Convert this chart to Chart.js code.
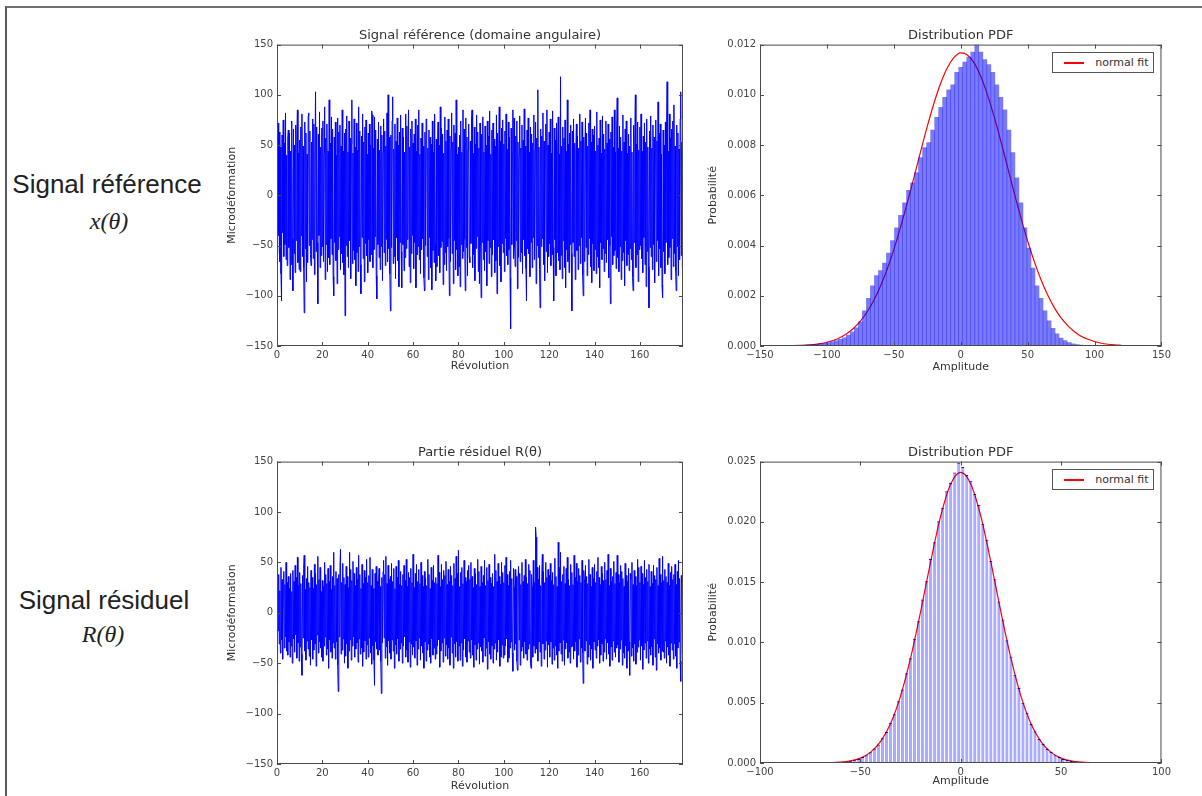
<!DOCTYPE html>
<html lang="fr">
<head>
<meta charset="utf-8">
<title>Signal référence / Signal résiduel</title>
<script src="https://cdn.jsdelivr.net/npm/chart.js@4.4.1/dist/chart.umd.min.js"></script>
<style>
  html, body { margin: 0; padding: 0; background: #fff; }
  #page { position: relative; width: 1202px; height: 796px; overflow: hidden; }
  #frame { position: absolute; left: 5px; top: 6px; width: 1200px; height: 795px;
           border-top: 2px solid #6e6e6e; border-left: 2px solid #5a5a5a; }
  .side { position: absolute; width: 220px; text-align: center; color: #222; }
  .side.name { font-family: 'Liberation Sans', Arial, sans-serif; font-size: 26px; line-height: 30px; }
  .side.math { font-family: 'Liberation Serif', 'DejaVu Serif', serif; font-style: italic; font-size: 24px; line-height: 28px; }
  .panel { position: absolute; }
  .panel canvas { display: block; }
  .legend { position: absolute; z-index: 2; background: #fff; border: 1px solid #555;
            padding: 3px 5px 3px 11px; font: 11px 'DejaVu Sans', sans-serif; color: #333;
            line-height: 13px; white-space: nowrap; }
  .legend .swatch { display: inline-block; width: 20px; height: 0; border-top: 2px solid;
                    vertical-align: middle; margin-right: 11px; }
</style>
</head>
<body>
<div id="page">
  <div id="frame"></div>

  <div class="side name" style="left:-3px; top:169px;">Signal référence</div>
  <div class="side math" style="left:-1px; top:207px;">x(θ)</div>
  <div class="side name" style="left:-6px; top:585px;">Signal résiduel</div>
  <div class="side math" style="left:-7px; top:620px;">R(θ)</div>

  <div class="panel" style="left:210px; top:22px;"><canvas id="refSignalChart" width="483" height="360"></canvas></div>
  <div class="panel" style="left:695px; top:22px;"><canvas id="refPdfChart" width="479" height="360"></canvas><div class="legend" id="refLegend"></div></div>
  <div class="panel" style="left:210px; top:439px;"><canvas id="resSignalChart" width="483" height="357"></canvas></div>
  <div class="panel" style="left:695px; top:439px;"><canvas id="resPdfChart" width="479" height="357"></canvas><div class="legend" id="resLegend"></div></div>
</div>

<script>
// ---- data ----

// revolutions between two consecutive samples of the signals
const sampleStep = 0.25;

// reference signal x(theta), microdeformation, 20 samples per line (5 revolutions)
const refSignal = [
  35, -58, 72, -40, 63, -66, 48, -78, -105, 60, -37, 75, -61, 52, -49, 82, -64, 40, -70, 57,
  65, -52, 62, -84, 44, -69, 74, -43, -95, 66, -58, 50, -77, 70, -45, 59, 85, -67, 42, -74,
  55, -76, 68, -40, 81, -61, 49, -72, -117, 73, -53, 62, -86, 41, -67, 79, 82, -50, 64, -59,
  -70, 53, -44, 76, -63, 71, -79, 45, 103, -56, 68, -47, -108, 61, -40, 83, -72, 48, -60, 67,
  -51, 74, -66, 42, 88, -84, 57, -49, 71, -76, 44, -62, 95, -69, 52, -43, 78, -59, 66, -81,
  -100, 58, -47, 73, -65, 40, -88, 77, -54, 63, -41, 70, -74, 49, -58, 85, -67, 44, -79, 62,
  -120, 66, -50, 79, -61, 43, -72, 74, -45, 57, -83, 51, 95, -68, 42, -55, 76, -64, 48, -90,
  72, -57, 45, -76, 88, -51, 64, -69, -98, 59, -42, 81, -63, 53, -86, 68, -48, 75, -60, 41,
  -77, 62, -44, 71, -66, 50, -59, 84, 80, -72, 47, -54, 78, -41, 65, -80, -103, 56, -49, 73,
  -62, 45, -74, 69, -51, 60, -85, 43, 76, -57, 64, -70, 49, -44, 82, -66, 100, -53, 58, -78,
  -115, 60, -52, 74, 98, -68, 46, -61, 71, -83, 54, -42, 77, -65, 50, -91, 63, -47, 80, -56,
  -92, 67, -49, 58, -75, 43, -62, 81, -53, 69, -44, 55, 85, -71, 48, -87, 66, -58, 74, -40,
  52, -73, 61, -47, 76, -92, 44, -59, 70, -51, 85, -64, 41, -78, 57, -54, 72, -43, 49, -82,
  -95, 63, -50, 76, 75, -61, 47, -84, 65, -42, 58, -72, 51, -94, 74, -55, 43, -67, 81, -49,
  -85, 56, -71, 44, 73, -60, 50, -77, 88, -52, 67, -46, 61, -89, 42, -69, 78, -57, 54, -75,
  65, -51, 76, -43, -100, 59, -66, 47, 82, -58, 53, -88, 70, -45, 62, -74, 95, -54, 41, -80,
  48, -71, 60, -91, 74, -49, 43, -63, 85, -56, 66, -44, -95, 77, -52, 58, -80, 45, 71, -61,
  -67, 54, -48, 75, 85, -72, 42, -59, 68, -85, 51, -53, 80, -41, 63, -76, 47, -88, 72, -50,
  -102, 61, -47, 78, -64, 43, -75, 69, -56, 50, -90, 74, -45, 59, -68, 84, -52, 41, -81, 65,
  -59, 72, -44, 56, -77, 49, -65, 80, -98, 62, -51, 43, 88, -70, 54, -86, 67, -48, 75, -57,
  51, -76, 64, -43, 81, -60, 46, -69, 73, -54, 58, -82, -133, 67, -49, 42, 85, -63, 77, -52,
  -71, 59, -45, 74, -93, 53, -62, 41, 79, -66, 47, -57, 70, -78, 55, -44, 86, -60, 49, -73,
  -105, 65, -53, 77, -58, 43, -81, 68, -47, 61, -72, 52, -42, 80, -64, 45, 73, -88, 57, -50,
  105, -62, 48, -74, -112, 66, -51, 59, -43, 82, -69, 54, -85, 44, 71, -56, 85, -77, 50, -61,
  63, -48, 76, -70, 42, -59, 84, -52, -105, 67, -44, 55, -80, 72, -57, 46, 78, -65, 41, -74,
  118, -60, 49, -83, 68, -45, 57, -72, 75, -92, 44, -54, 95, -66, 51, -77, 62, -49, 70, -58,
  -115, 64, -47, 76, -61, 52, -84, 43, 71, -55, 59, -74, 47, -50, 81, -68, 54, -42, 73, -79,
  -100, 58, -66, 45, 77, -52, 62, -80, 49, -59, 72, -43, 85, -71, 53, -87, 66, -48, 60, -75,
  69, -54, 44, -78, 83, -61, 50, -72, 57, -92, 75, -47, 42, -64, 79, -53, 61, -76, 46, -58,
  74, -67, 52, -44, 71, -82, 56, -50, -108, 63, -41, 78, -69, 48, -60, 85, -55, 43, -73, 66,
  97, -62, 47, -76, 69, -51, 58, -84, 44, -65, 80, -57, 53, -90, 66, -45, 74, -70, 42, -59,
  61, -75, 49, -53, 77, -64, 43, -82, -95, 70, -47, 56, 100, -72, 51, -59, 73, -86, 45, -54,
  68, -50, 81, -63, 44, -77, 59, -42, 72, -69, 53, -91, 76, -56, 48, -71, -112, 64, -52, 79,
  -61, 47, -74, 70, -49, 58, -87, 43, 75, -66, 54, -45, 93, -80, 62, -53, 71, -72, 41, -89,
  -102, 65, -56, 50, -78, 73, -47, 60, 113, -69, 44, -62, 81, -52, 57, -84, 66, -43, 74, -71,
  90, -58, 49, -75, -95, 70, -51, 62, -80, 46, -64, 76, 103, -60, 53, -72, 80, -67, 55, -88
];

// residual part R(theta)
const resSignal = [
  -70, 26, -18, 38, -31, 22, -40, 45, -27, 33, -46, 19, 41, -35, 28, -24, 50, -38, 30, -42,
  36, -29, 24, -44, 39, -33, 21, -50, 42, -26, 31, -39, 47, -22, 35, -45, 55, -30, 27, -48,
  40, -34, 29, -41, -62, 37, -25, 44, 57, -38, 23, -47, 34, -28, 46, -36, 30, -43, 25, -52,
  42, -27, 35, -46, 24, -37, 48, -31, 39, -53, 28, -22, 56, -40, 33, -29, 45, -35, 21, -44,
  32, -48, 26, -33, 50, -24, 38, -42, 29, -36, 44, -55, 31, -27, 47, -39, 23, -45, 36, -30,
  60, -35, 27, -46, 41, -29, 34, -52, -78, 38, -24, 45, 63, -41, 30, -37, 49, -26, 35, -50,
  28, -43, 46, -31, 36, -55, 25, -38, 60, -27, 43, -47, 32, -33, 51, -24, 39, -44, 27, -36,
  45, -30, 33, -49, 57, -26, 38, -41, 24, -35, 48, -53, 29, -39, 42, -28, 35, -46, 53, -32,
  30, -44, 37, -25, 55, -40, 27, -51, 43, -33, 24, -47, -72, 39, -29, 46, -36, 31, -42, 28,
  44, -37, 26, -48, -80, 35, -30, 41, 52, -25, 38, -45, 56, -34, 29, -52, 47, -28, 33, -40,
  36, -46, 49, -27, 31, -38, 44, -55, 24, -32, 46, -41, 35, -26, 52, -48, 28, -36, 41, -30,
  27, -50, 38, -33, 47, -24, 32, -44, 53, -37, 26, -49, 40, -29, 35, -54, 44, -31, 30, -42,
  58, -34, 25, -45, 39, -28, 48, -52, 31, -36, 43, -25, 29, -47, 50, -33, 37, -40, 26, -55,
  41, -29, 34, -48, 27, -37, 53, -31, 38, -44, 24, -50, 45, -26, 32, -42, 47, -35, 30, -46,
  35, -41, 29, -33, 57, -27, 40, -54, 26, -38, 48, -30, 33, -49, 42, -25, 37, -43, 51, -32,
  28, -46, 43, -35, 31, -52, 46, -24, 37, -40, 27, -55, 49, -31, 34, -44, 56, -29, 39, -48,
  62, -33, 26, -47, 40, -30, 45, -53, 29, -37, 52, -26, 35, -44, 31, -49, 42, -28, 47, -39,
  33, -45, 50, -27, 36, -42, 25, -54, 44, -32, 39, -47, 28, -36, 53, -30, 41, -51, 26, -34,
  46, -38, 30, -49, 37, -25, 52, -43, 27, -35, 45, -56, 32, -29, 48, -41, 35, -46, 29, -33,
  39, -50, 26, -36, 58, -30, 42, -47, 31, -39, 49, -27, 36, -53, 28, -44, 50, -32, 40, -45,
  30, -42, 47, -33, 55, -26, 38, -49, 27, -45, 41, -35, 52, -29, 34, -40, -58, 44, 25, -37,
  43, -31, 36, -48, -57, 32, 46, -27, 39, -52, 28, -38, 50, -34, 31, -45, 37, -29, 53, -41,
  35, -47, 29, -36, 48, -31, 42, -50, -55, 38, 26, -44, 52, -33, 30, -40, 85, 75, -36, 45,
  -48, 33, -29, 47, -39, 27, -53, 36, 58, -31, 41, -46, 30, -37, 50, -28, 35, -54, 43, -32,
  37, -44, 49, -29, 32, -51, 40, -35, 28, -47, 54, -33, 36, -42, 26, -55, 70, -38, 45, -30,
  60, -41, 31, -48, 38, -27, 46, -52, 29, -36, 44, -30, 55, -45, 33, -39, 27, -50, 48, -34,
  40, -33, 28, -46, 57, -38, 35, -29, 49, -54, 31, -42, 44, -26, 37, -49, 30, -35, 52, -40,
  -70, 42, 33, -38, 47, -28, 36, -51, 29, -44, 53, -32, 38, -47, 26, -36, 45, -55, 34, -29,
  48, -37, 30, -45, 41, -33, 55, -27, 35, -50, 28, -42, 46, -31, 39, -48, 32, -39, 50, -26,
  33, -46, 42, -30, 58, -41, 27, -53, 44, -34, 31, -47, 36, -28, 51, -39, 29, -44, 40, -35,
  57, -32, 38, -49, 30, -36, 47, -27, 41, -52, 34, -40, 26, -45, 49, -33, 37, -55, 31, -38,
  44, -29, -62, 39, 33, -43, 50, -35, 28, -48, 42, -31, 36, -51, 27, -39, 53, -34, 45, -27,
  30, -47, 46, -33, 39, -56, 28, -37, 52, -30, 35, -45, 43, -28, 31, -50, 48, -36, 26, -42,
  41, -34, 29, -52, 47, -26, 37, -44, 33, -57, 45, -31, 27, -40, 54, -35, 38, -47, 30, -38,
  56, -39, 32, -45, 43, -28, 36, -50, 30, -34, 49, -42, 27, -53, 40, -30, 46, -37, 33, -46,
  38, -31, 48, -43, 28, -55, 41, -35, 52, -29, 34, -48, -68, 37, 30, -41, 55, -33, 44, -60
];

// histogram of x(theta): bin centres (amplitude) and probability density
const refBins = [
  -129, -126, -123, -120, -117, -114, -111, -108, -105, -102, -99, -96, -93, -90, -87, -84,
  -81, -78, -75, -72, -69, -66, -63, -60, -57, -54, -51, -48, -45, -42, -39, -36, -33, -30,
  -27, -24, -21, -18, -15, -12, -9, -6, -3, 0, 3, 6, 9, 12, 15, 18, 21, 24, 27, 30, 33, 36,
  39, 42, 45, 48, 51, 54, 57, 60, 63, 66, 69, 72, 75, 78, 81, 84, 87, 90, 93, 96, 99, 102,
  105, 108, 111, 114, 117, 120
];
const refPdf = [
  0.00002, 0.00002, 0.00003, 0.00003, 0.00004, 0.00005, 0.00006, 0.00007, 0.00009, 0.00011,
  0.00014, 0.00018, 0.00022, 0.00027, 0.00033, 0.00043, 0.00056, 0.00072, 0.00096, 0.0014,
  0.0019, 0.0024, 0.0028, 0.0030, 0.0033, 0.0037, 0.0042, 0.0047, 0.0052, 0.0057,
  0.0062, 0.0065, 0.0069, 0.0075, 0.0079, 0.0081, 0.0086, 0.0091, 0.0095, 0.0099,
  0.0102, 0.0104, 0.0109, 0.0111, 0.0113, 0.0115, 0.0117, 0.0120, 0.0117, 0.0114,
  0.0112, 0.0109, 0.0104, 0.0099, 0.0094, 0.0086, 0.0077, 0.0067, 0.0057, 0.0047,
  0.0039, 0.0031, 0.0024, 0.0019, 0.0014, 0.0010, 0.0007, 0.00048, 0.00032, 0.00022,
  0.00014, 0.00009, 0.00006, 0.00004, 0.00003, 0.00002, 0.00002, 0.00001, 0.00001, 0.00001,
  0.00001, 0.00001, 0.00001, 0.00001
];
// normal fit drawn over it
const refFitX = [
  -130, -125, -120, -115, -110, -105, -100, -95, -90, -85, -80, -75, -70, -65, -60, -55, -50,
  -45, -40, -35, -30, -25, -20, -15, -10, -5, 0, 5, 10, 15, 20, 25, 30, 35, 40, 45, 50, 55,
  60, 65, 70, 75, 80, 85, 90, 95, 100, 105, 110, 115, 120
];
const refFitY = [
  0.0000076, 0.000013, 0.000022, 0.000037, 0.00006, 0.000096, 0.000149, 0.000227, 0.000338,
  0.000494, 0.000706, 0.000987, 0.001353, 0.001813, 0.002378, 0.003053, 0.003838, 0.004723,
  0.005688, 0.006706, 0.007738, 0.008741, 0.009665, 0.01046, 0.01108, 0.01149, 0.01167,
  0.01159, 0.01127, 0.01073, 0.01000, 0.00912, 0.00815, 0.00712, 0.00609, 0.00510, 0.00418,
  0.00336, 0.00264, 0.00203, 0.00152, 0.00112, 0.00081, 0.00057, 0.00039, 0.00027, 0.00018,
  0.00011, 0.00007, 0.000045, 0.000027
];

// histogram of R(theta)
const resBins = [
  -79, -77, -75, -73, -71, -69, -67, -65, -63, -61, -59, -57, -55, -53, -51, -49, -47, -45,
  -43, -41, -39, -37, -35, -33, -31, -29, -27, -25, -23, -21, -19, -17, -15, -13, -11, -9,
  -7, -5, -3, -1, 1, 3, 5, 7, 9, 11, 13, 15, 17, 19, 21, 23, 25, 27, 29, 31, 33, 35, 37, 39,
  41, 43, 45, 47, 49, 51, 53, 55, 57, 59, 61, 63, 65, 67, 69, 71, 73, 75, 77, 79
];
const resPdf = [
  0.000002, 0.000003, 0.000003, 0.000004, 0.000006, 0.000008, 0.000012, 0.000022, 0.000036,
  0.000058, 0.000083, 0.00012, 0.00018, 0.00026, 0.00034, 0.00049, 0.00065, 0.00090, 0.00121,
  0.00154, 0.00206, 0.00258, 0.00333, 0.00405, 0.00512, 0.00609, 0.00745, 0.00868, 0.01031,
  0.01176, 0.01356, 0.01507, 0.01692, 0.01831, 0.02006, 0.02118, 0.02255, 0.02322, 0.02410,
  0.02490, 0.02455, 0.02388, 0.02341, 0.02232, 0.02140, 0.01985, 0.01852, 0.01676, 0.01524,
  0.01339, 0.01190, 0.01018, 0.00884, 0.00731, 0.00622, 0.00499, 0.00416, 0.00324, 0.00264,
  0.00199, 0.00158, 0.00117, 0.00091, 0.00064, 0.00050, 0.00033, 0.00025, 0.00016, 0.00012,
  0.00008, 0.000055, 0.000038, 0.000024, 0.000015, 0.00001, 0.000007, 0.000005, 0.000004,
  0.000003, 0.000002
];
const resFitX = [
  -100, -95, -90, -85, -80, -75, -70, -65, -60, -55, -50, -45, -40, -35, -30, -25, -20, -15,
  -10, -5, 0, 5, 10, 15, 20, 25, 30, 35, 40, 45, 50, 55, 60, 65, 70, 75, 80, 85, 90, 95, 100
];
const resFitY = [
  0, 0, 0, 0.0000001, 0.0000007, 0.0000025, 0.0000081, 0.0000243, 0.0000675, 0.000173,
  0.000407, 0.00088, 0.00177, 0.00326, 0.00555, 0.00869, 0.01254, 0.01669, 0.02047, 0.02314,
  0.0241, 0.02314, 0.02047, 0.01669, 0.01254, 0.00869, 0.00555, 0.00326, 0.00177, 0.00088,
  0.000407, 0.000173, 0.0000675, 0.0000243, 0.0000081, 0.0000025, 0.0000007, 0.0000001, 0, 0, 0
];

// ---- chart setup ----

const fitColor = '#ff0000';
const tickFont = { family: "'DejaVu Sans', sans-serif", size: 10 };
const labelFont = { family: "'DejaVu Sans', sans-serif", size: 11 };
const minus = v => String(v).replace('-', '\u2212');

// matplotlib-like box around the axes, ticks pointing inwards
const axesFrame = {
  id: 'axesFrame',
  afterDatasetsDraw(chart) {
    const { ctx, chartArea: a, scales } = chart;
    ctx.save();
    ctx.strokeStyle = '#4a4a4a';
    ctx.lineWidth = 1;
    ctx.strokeRect(a.left + 0.5, a.top + 0.5, a.width - 1, a.height - 1);
    ctx.beginPath();
    scales.x.ticks.forEach(t => {
      const px = Math.round(scales.x.getPixelForValue(t.value)) + 0.5;
      ctx.moveTo(px, a.bottom); ctx.lineTo(px, a.bottom - 4);
      ctx.moveTo(px, a.top); ctx.lineTo(px, a.top + 4);
    });
    scales.y.ticks.forEach(t => {
      const py = Math.round(scales.y.getPixelForValue(t.value)) + 0.5;
      ctx.moveTo(a.left, py); ctx.lineTo(a.left + 4, py);
      ctx.moveTo(a.right, py); ctx.lineTo(a.right - 4, py);
    });
    ctx.stroke();
    ctx.restore();
  }
};

// legend box drawn as html, placed in the upper right corner of the axes
const htmlLegend = {
  id: 'htmlLegend',
  afterUpdate(chart, args, opts) {
    const box = document.getElementById(opts.containerID);
    if (!box) return;
    box.innerHTML = '';
    chart.data.datasets
      .filter(ds => ds.type === 'line')
      .forEach(ds => {
        const swatch = document.createElement('span');
        swatch.className = 'swatch';
        swatch.style.borderTopColor = fitColor;
        box.appendChild(swatch);
        box.appendChild(document.createTextNode(ds.label));
      });
    const area = chart.chartArea;
    box.style.top = (area.top + 7) + 'px';
    box.style.right = (chart.width - area.right + 7) + 'px';
  }
};

function panelOptions(p) {
  return {
    responsive: false,
    animation: false,
    devicePixelRatio: 1,
    layout: { padding: { top: 3, right: 10, left: 0, bottom: 0 } },
    plugins: {
      legend: { display: false },
      tooltip: { enabled: false },
      title: {
        display: true, text: p.title, color: '#333', fullSize: false,
        font: { family: "'DejaVu Sans', sans-serif", size: 13, weight: 'normal' },
        padding: { top: 3, bottom: 1 }
      },
      htmlLegend: { containerID: p.legendId }
    },
    scales: {
      x: {
        type: 'linear', min: p.xMin, max: p.xMax, offset: false,
        grid: { display: false, drawTicks: false, offset: false }, border: { display: false },
        ticks: { stepSize: p.xStep, includeBounds: false, maxRotation: 0, padding: 3,
                 color: '#444', font: tickFont, callback: minus },
        title: { display: true, text: p.xTitle, color: '#333', font: labelFont,
                 padding: { top: 0, bottom: p.xTitlePad } },
        afterFit: s => { s.height = p.xAxisHeight; }
      },
      y: {
        min: p.yMin, max: p.yMax,
        grid: { display: false, drawTicks: false }, border: { display: false },
        ticks: { stepSize: p.yStep, includeBounds: false, padding: 4, color: '#444',
                 font: tickFont, callback: p.yFormat },
        title: { display: true, text: p.yTitle, color: '#333', font: labelFont,
                 padding: { top: p.yTitlePad, bottom: 0 } },
        afterFit: s => { s.width = p.yAxisWidth; }
      }
    }
  };
}

function signalChart(id, values, title, xAxisHeight, xTitlePad) {
  return new Chart(document.getElementById(id), {
    type: 'line',
    data: {
      datasets: [{
        type: 'line',
        data: values.map((v, i) => ({ x: i * sampleStep, y: v })),
        borderColor: '#0000ff',
        borderWidth: 1,
        pointRadius: 0,
        tension: 0
      }]
    },
    options: panelOptions({
      title, xMin: 0, xMax: 179, xStep: 20, xTitle: 'Révolution', xTitlePad, xAxisHeight,
      yMin: -150, yMax: 150, yStep: 50, yTitle: 'Microdéformation', yTitlePad: 16,
      yAxisWidth: 67, yFormat: minus
    }),
    plugins: [axesFrame]
  });
}

function pdfChart(id, bins, pdf, fitX, fitY, p) {
  return new Chart(document.getElementById(id), {
    type: 'bar',
    data: {
      datasets: [
        {
          type: 'bar',
          label: 'histogram',
          data: bins.map((b, i) => ({ x: b, y: pdf[i] })),
          backgroundColor: p.barColor,
          borderColor: p.edgeColor,
          borderWidth: p.edgeWidth,
          borderSkipped: 'bottom',
          barPercentage: p.barPct,
          categoryPercentage: 1,
          order: 0
        },
        {
          type: 'line',
          label: 'normal fit',
          data: fitX.map((x, i) => ({ x, y: fitY[i] })),
          borderColor: fitColor,
          borderWidth: 1.2,
          pointRadius: 0,
          cubicInterpolationMode: 'monotone',
          order: 1
        }
      ]
    },
    options: panelOptions({
      title: 'Distribution PDF', xMin: p.xMin, xMax: p.xMax, xStep: 50, xTitle: 'Amplitude',
      xTitlePad: p.xTitlePad, xAxisHeight: p.xAxisHeight,
      yMin: 0, yMax: p.yMax, yStep: p.yStep, yTitle: 'Probabilité', yTitlePad: 12,
      yAxisWidth: 65, yFormat: v => v.toFixed(3), legendId: p.legendId
    }),
    plugins: [axesFrame, htmlLegend]
  });
}

signalChart('refSignalChart', refSignal, 'Signal référence (domaine angulaire)', 36, 9);
signalChart('resSignalChart', resSignal, 'Partie résiduel R(θ)', 32, 3);

pdfChart('refPdfChart', refBins, refPdf, refFitX, refFitY, {
  xMin: -150, xMax: 150, yMax: 0.012, yStep: 0.002, xAxisHeight: 36, xTitlePad: 8,
  barColor: 'rgba(0, 0, 240, 0.52)', edgeColor: 'rgba(0, 0, 240, 0)', edgeWidth: 0, barPct: 1,
  legendId: 'refLegend'
});
pdfChart('resPdfChart', resBins, resPdf, resFitX, resFitY, {
  xMin: -100, xMax: 100, yMax: 0.025, yStep: 0.005, xAxisHeight: 33, xTitlePad: 8,
  barColor: 'rgba(0, 0, 255, 0.33)', edgeColor: 'rgba(0, 0, 190, 0.9)',
  edgeWidth: { top: 1, left: 0, right: 0, bottom: 0 }, barPct: 0.8,
  legendId: 'resLegend'
});
</script>
</body>
</html>
